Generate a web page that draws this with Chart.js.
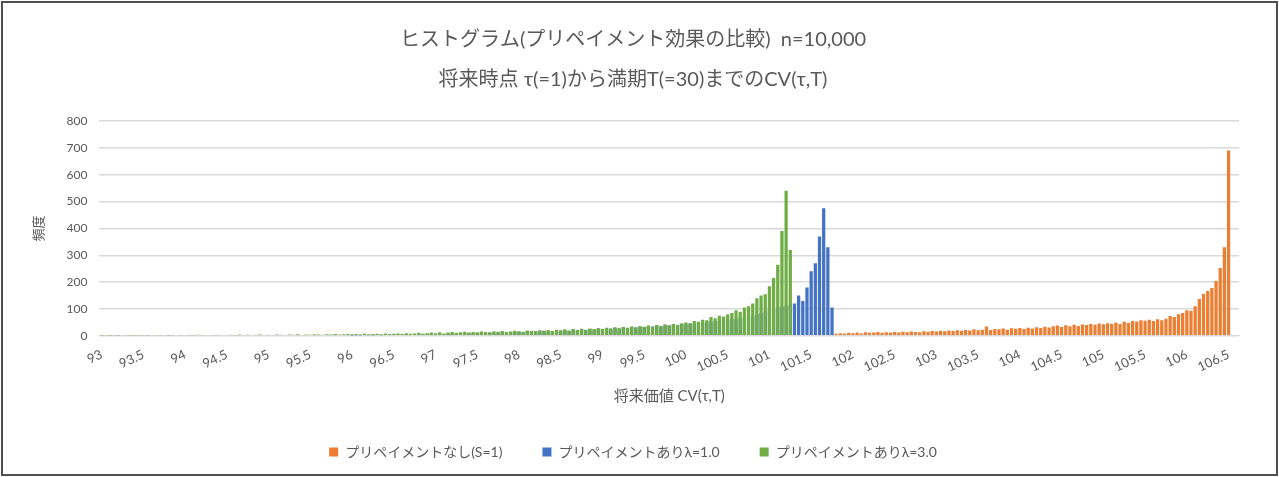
<!DOCTYPE html>
<html>
<head>
<meta charset="utf-8">
<script src="https://cdn.jsdelivr.net/npm/chart.js@4"></script>
<style>
  body { margin: 0; background: #fff; }
  #frame { position: absolute; left: 1px; top: 1px; width: 1277px; height: 475px; box-sizing: border-box; border: 2px solid #505050; pointer-events: none; }
  canvas { position: absolute; left: 0; top: 0; }
</style>
</head>
<body>
<canvas id="chart" width="1279" height="477"></canvas>
<div id="frame"></div>
<script>
// bins: 93.00 .. 106.60, width 0.05
const binStart = 93;
const binWidth = 0.05;
const binCount = 273;

const seriesNames = ['プリペイメントなし(S=1)', 'プリペイメントありλ=1.0', 'プリペイメントありλ=3.0'];
const seriesColors = ['#ED7D31', '#4472C4', '#70AD47'];

// green: λ=3.0, starts at bin 0 (93.00)
const greenStart = 0;
const greenValues = [
  1, 2, 1, 2, 1, 3, 2, 1, 2, 2,
  2, 1, 3, 2, 2, 3, 1, 2, 3, 2,
  3, 2, 2, 4, 2, 3, 3, 2, 4, 3,
  3, 4, 2, 5, 3, 4, 3, 4, 5, 3,
  4, 3, 5, 4, 3, 5, 4, 6, 3, 5,
  4, 6, 5, 4, 6, 5, 7, 5, 6, 7,
  6, 7, 5, 8, 6, 7, 8, 6, 9, 7,
  8, 9, 7, 10, 8, 9, 11, 8, 10, 12,
  10, 13, 9, 12, 14, 11, 13, 15, 12, 14,
  13, 16, 14, 12, 17, 15, 18, 14, 16, 19,
  17, 15, 20, 18, 16, 21, 19, 22, 18, 23,
  21, 24, 20, 25, 22, 26, 23, 27, 25, 28,
  26, 30, 27, 32, 28, 33, 30, 35, 31, 36,
  34, 38, 33, 40, 36, 42, 38, 44, 40, 46,
  50, 45, 55, 52, 60, 58, 70, 65, 75, 72,
  80, 85, 95, 90, 105, 110, 120, 140, 150, 155,
  185, 215, 265, 390, 540, 320
];

// blue: λ=1.0, starts at bin 60 (96.00)
const blueStart = 60;
const blueValues = [
  1, 2, 1, 3, 2, 2, 3, 2, 4, 3,
  3, 4, 3, 5, 4, 4, 6, 5, 5, 6,
  6, 7, 5, 8, 7, 9, 6, 8, 10, 8,
  9, 11, 8, 12, 10, 13, 11, 12, 14, 13,
  15, 13, 16, 14, 17, 16, 19, 15, 18, 20,
  19, 21, 18, 23, 20, 24, 22, 25, 23, 27,
  25, 28, 26, 30, 27, 32, 29, 33, 31, 35,
  33, 37, 35, 39, 36, 41, 38, 43, 40, 45,
  43, 47, 45, 50, 48, 53, 51, 56, 55, 60,
  58, 63, 62, 68, 66, 72, 75, 80, 85, 90,
  95, 100, 105, 110, 112, 115,
  120, 150, 130, 180, 240, 270, 370, 475, 330, 105
];

// orange: no prepayment, starts at bin 175 (101.75)
const orangeStart = 175;
const orangeValues = [
  5, 8, 10, 9, 11,
  10, 12, 9, 13, 11, 12, 14, 11, 13, 12,
  14, 12, 15, 13, 16, 14, 13, 17, 15, 18,
  16, 19, 17, 20, 18, 21, 19, 22, 20, 24,
  21, 23, 35, 22, 25, 24, 27, 23, 28, 26,
  29, 25, 30, 27, 32, 29, 34, 31, 36, 38,
  33, 39, 36, 41, 37, 42, 40, 44, 41, 46,
  43, 47, 45, 50, 44, 52, 48, 55, 53, 58,
  56, 60, 55, 62, 58, 64, 74, 70, 80, 85,
  95, 93, 110, 137, 156, 167, 178, 204, 253, 330, 690
];

const yTicks = [0, 100, 200, 300, 400, 500, 600, 700, 800];

const labels = [];
for (let i = 0; i < binCount; i++) labels.push(String(Number((binStart + i * binWidth).toFixed(2))));

function place(start, values) {
  const arr = new Array(binCount).fill(null);
  values.forEach((v, i) => { arr[start + i] = v; });
  return arr;
}

const seriesData = [place(orangeStart, orangeValues), place(blueStart, blueValues), place(greenStart, greenValues)];

const font = "Lato, 'Noto Sans CJK JP', sans-serif";
const grey = '#595959';

new Chart(document.getElementById('chart'), {
  type: 'bar',
  data: {
    labels: labels,
    datasets: seriesNames.map((name, k) => ({
      label: name,
      data: seriesData[k],
      backgroundColor: seriesColors[k],
      borderWidth: 0,
      grouped: false,
      order: 2 - k,   // green on top, like the overlapped Excel columns
      categoryPercentage: 1.0,
      barPercentage: 0.78
    }))
  },
  options: {
    responsive: false,
    animation: false,
    layout: { padding: { top: 0, left: 27, right: 40, bottom: 8 } },
    plugins: {
      title: {
        display: true,
        text: ['ヒストグラム(プリペイメント効果の比較)  n=10,000', '将来時点 τ(=1)から満期T(=30)までのCV(τ,T)'],
        color: grey,
        font: { family: font, size: 20, weight: 'normal', lineHeight: 2 },
        padding: { top: 20, bottom: 21 }
      },
      legend: {
        position: 'bottom',
        labels: {
          color: grey, font: { family: font, size: 14 }, boxWidth: 9, boxHeight: 9, padding: 40,
          sort: (a, b) => a.datasetIndex - b.datasetIndex
        }
      },
      tooltip: { enabled: false }
    },
    scales: {
      x: {
        grid: { display: false },
        border: { color: '#d9d9d9' },
        ticks: {
          autoSkip: false,
          minRotation: 25,
          maxRotation: 25,
          color: grey,
          font: { family: font, size: 13 },
          callback: function (v, i) { return i % 10 === 0 ? labels[i] : null; }
        },
        title: { display: true, text: '将来価値 CV(τ,T)', color: grey, font: { family: font, size: 15 }, padding: { top: 9, bottom: 0 } }
      },
      y: {
        min: 0,
        max: 800,
        afterBuildTicks: axis => { axis.ticks = yTicks.map(v => ({ value: v })); },
        grid: { color: '#d9d9d9', lineWidth: 1.5, drawTicks: false },
        border: { display: false },
        ticks: { color: grey, font: { family: font, size: 12 }, padding: 12 },
        title: { display: true, text: '頻度', color: grey, font: { family: font, size: 13 }, padding: { bottom: 8 } }
      }
    }
  }
});
</script>
</body>
</html>
